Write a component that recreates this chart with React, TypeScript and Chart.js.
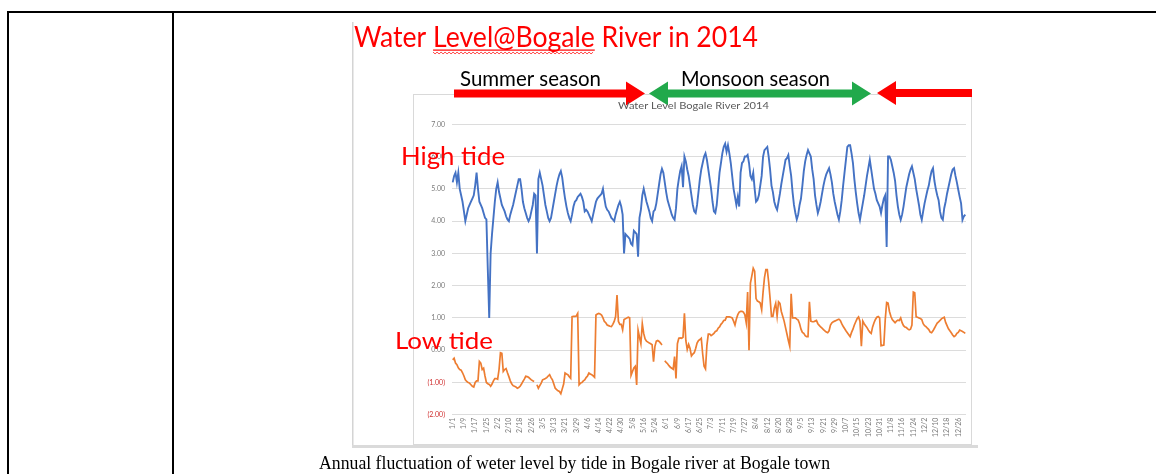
import React, { useEffect, useRef } from 'react';
import { Chart, registerables } from 'chart.js';

Chart.register(...registerables);

// ---------- data ----------
const MONTH_LENGTHS = [31, 29, 31, 30, 31, 30, 31, 31, 30, 31, 30, 31];
const DATES: string[] = [];
MONTH_LENGTHS.forEach((n, m) => {
  for (let d = 1; d <= n; d++) DATES.push(`${m + 1}/${d}`);
});
const LABEL_EVERY = 8;

const Y_MIN = -2;
const Y_MAX = 7;

const HIGH_TIDE: number[] = [
  5.2, 5.4, 5.5, 5.2, 5.5, 5.0, 4.8, 4.6, 4.3, 4.0,
  4.2, 4.4, 4.5, 4.6, 4.7, 4.8, 5.1, 5.5, 5.0, 4.6,
  4.5, 4.4, 4.25, 4.1, 4.05, 2.5, 1.0, 3.0, 3.6, 4.1,
  4.6, 5.0, 5.2, 4.9, 4.7, 4.5, 4.4, 4.3, 4.15, 4.05,
  4.0, 4.2, 4.35, 4.5, 4.7, 4.9, 5.1, 5.3, 5.3, 5.0,
  4.6, 4.4, 4.25, 4.1, 4.0, 4.1, 4.3, 4.5, 4.85, 4.8,
  3.0, 5.3, 5.5, 5.3, 5.1, 4.8, 4.5, 4.3, 4.1, 4.0,
  4.1, 4.35, 4.6, 4.85, 5.1, 5.3, 5.45, 5.55, 5.35, 5.0,
  4.7, 4.45, 4.25, 4.1, 4.0, 4.2, 4.45, 4.6, 4.65, 4.75,
  4.8, 4.85, 4.75, 4.6, 4.3, 4.35, 4.3, 4.2, 4.1, 4.0,
  4.2, 4.4, 4.6, 4.7, 4.75, 4.8, 4.85, 5.0, 4.7, 4.45,
  4.35, 4.3, 4.2, 4.1, 4.05, 4.0, 4.2, 4.35, 4.5, 4.6,
  4.45, 4.2, 3.0, 3.6, 3.55, 3.5, 3.45, 3.3, 3.25, 3.7,
  3.65, 3.6, 2.9, 4.1, 4.35, 4.8, 5.0, 4.8, 4.6, 4.45,
  4.3, 4.1, 4.0, 4.3, 4.35, 4.55, 4.85, 5.15, 5.45, 5.62,
  5.5, 5.2, 4.9, 4.65, 4.5, 4.35, 4.2, 4.1, 4.04, 4.4,
  5.0, 5.3, 5.55, 5.7, 5.05, 6.0, 5.85, 5.6, 5.4, 5.1,
  4.8, 4.5, 4.3, 4.25, 4.5, 4.9, 5.3, 5.6, 5.8, 6.0,
  6.1, 5.9, 5.6, 5.3, 5.0, 4.6, 4.3, 4.25, 4.5, 5.0,
  5.5, 5.8, 6.1, 6.3, 6.4, 6.15, 6.35, 6.1, 5.8, 5.4,
  5.0, 4.75, 4.5, 4.75, 4.45, 5.5, 5.8, 5.85, 6.0, 6.0,
  6.05, 5.8, 5.4, 5.3, 5.5, 5.0, 4.6, 4.65, 4.8, 5.1,
  5.4, 6.0, 6.2, 6.25, 6.3, 6.0, 5.6, 5.1, 4.9, 4.6,
  4.45, 4.35, 4.6, 4.85, 5.15, 5.4, 5.65, 5.9, 5.95, 6.05,
  5.7, 5.4, 4.9, 4.5, 4.25, 4.05, 4.2, 4.5, 4.7, 5.1,
  5.55, 5.85, 6.05, 6.2, 6.1, 6.0, 5.6, 5.3, 4.8, 4.5,
  4.25, 4.4, 4.6, 4.85, 5.1, 5.3, 5.45, 5.55, 5.64, 5.45,
  5.2, 4.85, 4.6, 4.4, 4.2, 4.05, 4.3, 4.65, 5.1, 5.5,
  5.9, 6.3, 6.35, 6.35, 6.1, 5.8, 5.3, 4.9, 4.55, 4.25,
  4.04, 4.3, 4.55, 4.8, 5.1, 5.4, 5.65, 5.9, 5.6, 5.3,
  5.0, 4.85, 4.65, 4.55, 4.45, 4.25, 4.5, 4.7, 4.8, 3.2,
  6.0, 6.0, 5.9, 5.7, 5.5, 5.25, 4.8, 4.45, 4.2, 4.04,
  4.2, 4.45, 4.75, 5.05, 5.25, 5.45, 5.6, 5.7, 5.5, 5.3,
  5.0, 4.75, 4.5, 4.2, 4.04, 4.3, 4.55, 4.75, 4.95, 5.1,
  5.35, 5.55, 5.64, 5.25, 5.0, 4.8, 4.65, 4.3, 4.1, 4.04,
  4.4, 4.6, 4.85, 5.05, 5.25, 5.45, 5.6, 5.64, 5.4, 5.2,
  4.97, 4.75, 4.55, 4.04, 4.15, 4.2,
];

const LOW_TIDE: (number | null)[] = [
  -0.30, -0.25, -0.40, -0.45, -0.55, -0.60, -0.62, -0.70, -0.80, -0.92,
  -0.97, -1.00, -1.02, -1.07, -1.12, -1.14, -1.00, -0.95, -0.95, -0.35,
  -0.40, -0.60, -0.56, -0.80, -1.00, -1.04, -1.06, -1.12, -1.05, -0.95,
  -0.88, -0.88, -0.90, -0.60, -0.08, -0.10, -0.66, -0.60, -0.57, -0.70,
  -0.82, -0.95, -1.04, -1.10, -1.12, -1.14, -1.18, -1.16, -1.12, -1.05,
  -0.97, -0.90, -0.81, -0.82, -0.84, -0.88, -0.92, -0.95, -0.97, null,
  -1.07, -1.18, -1.10, -1.02, -0.92, -0.90, -0.88, -0.85, -0.80, -0.76,
  -0.85, -0.92, -1.05, -1.18, -1.22, -1.26, -1.28, -1.35, -1.20, -1.05,
  -0.71, -0.74, -0.76, -0.82, -0.87, 1.04, 1.05, 1.05, 1.06, 1.14,
  -1.07, -1.02, -1.00, -0.95, -0.92, -0.85, -0.80, -0.71, -0.74, -0.76,
  -0.80, -0.84, 1.09, 1.12, 1.14, 1.12, 1.09, 1.00, 0.89, 0.85,
  0.78, 0.76, 0.74, 0.73, 0.80, 0.89, 1.04, 1.71, 0.89, 0.80,
  0.80, 0.63, 0.95, 0.97, 1.00, 1.02, 1.00, -0.78, -0.66, -0.55,
  -0.50, -1.08, 0.62, 0.40, 0.20, 0.82, 0.52, 0.35, 0.28, 0.25,
  0.22, 0.20, 0.17, -0.36, 0.12, 0.28, 0.30, 0.27, 0.22, 0.16,
  null, -0.33, -0.38, -0.42, -0.48, -0.53, -0.56, -0.59, -0.20, -0.88,
  0.20, 0.37, 0.38, 0.37, 0.40, 1.14, 0.30, 0.02, 0.18, 0.05,
  -0.18, -0.12, -0.08, 0.05, 0.22, 0.30, 0.33, 0.37, -0.12, -0.50,
  -0.58, 0.15, 0.50, 0.50, 0.45, 0.48, 0.52, 0.58, 0.60, 0.68,
  0.72, 0.80, 0.85, 0.92, 0.93, 1.03, 1.03, 1.03, 1.02, 1.00,
  0.90, 0.78, 0.97, 1.10, 1.18, 1.20, 1.20, 1.18, 1.10, 0.85,
  1.80, 0.00, 2.08, 2.30, 2.54, 2.45, 1.60, 1.52, 1.50, 1.46,
  1.25, 1.80, 2.25, 2.50, 2.50, 2.10, 1.60, 1.05, 1.05, 1.30,
  1.45, 1.05, 1.50, 1.45, 1.20, 1.05, 0.90, 0.70, 0.50, 0.30,
  0.12, 1.75, 1.00, 1.00, 1.00, 0.96, 0.93, 0.82, 0.65, 0.55,
  0.52, 0.45, 0.42, 0.42, 1.50, 0.90, 0.88, 0.88, 0.90, 0.92,
  0.82, 0.77, 0.72, 0.68, 0.64, 0.60, 0.56, 0.54, 0.60, 0.78,
  0.85, 0.88, 0.90, 0.92, 0.94, 0.96, 0.92, 0.82, 0.74, 0.67,
  0.60, 0.54, 0.48, 0.42, 0.55, 0.65, 0.78, 0.88, 0.98, 1.03,
  0.90, 0.12, 0.90, 0.82, 0.76, 0.70, 0.62, 0.56, 0.52, 0.72,
  0.85, 0.95, 1.02, 1.04, 1.00, 0.14, 0.15, 0.16, 0.95, 1.48,
  1.46, 1.20, 1.05, 0.95, 0.90, 0.85, 0.90, 0.93, 0.92, 1.00,
  0.85, 0.76, 0.72, 0.70, 0.66, 0.63, 0.65, 0.78, 1.80, 1.78,
  1.03, 1.02, 1.00, 0.98, 0.95, 0.82, 0.76, 0.73, 0.68, 0.64,
  0.56, 0.54, 0.60, 0.68, 0.76, 0.84, 0.88, 0.92, 0.97, 1.00,
  1.02, 0.86, 0.76, 0.66, 0.60, 0.54, 0.47, 0.42, 0.45, 0.52,
  0.55, 0.62, 0.60, 0.58, 0.55, 0.52,
];

// ---------- texts ----------
const MAIN_TITLE = 'Water Level@Bogale River in 2014';
const UNDERLINED_PART = 'Level@Bogale';
const CHART_TITLE = 'Water Level Bogale River 2014';
const SUMMER = 'Summer season';
const MONSOON = 'Monsoon season';
const HIGH_LABEL = 'High tide';
const LOW_LABEL = 'Low tide';
const CAPTION = 'Annual fluctuation of weter level by tide in Bogale river at Bogale town';

const W = 1156;
const H = 474;

function fitText(
  ctx: CanvasRenderingContext2D,
  text: string,
  x: number,
  baseline: number,
  width: number,
  size: number,
  family: string,
  color: string
) {
  ctx.save();
  ctx.font = `${size}px ${family}`;
  const m = ctx.measureText(text).width;
  ctx.translate(x, baseline);
  ctx.scale(width / m, 1);
  ctx.fillStyle = color;
  ctx.textAlign = 'left';
  ctx.textBaseline = 'alphabetic';
  ctx.fillText(text, 0, 0);
  ctx.restore();
}

function blockArrow(
  ctx: CanvasRenderingContext2D,
  x1: number,
  x2: number,
  cy: number,
  shaft: number,
  head: number,
  headL: number,
  leftHead: boolean,
  rightHead: boolean,
  color: string
) {
  const s = shaft / 2;
  const h = head / 2;
  ctx.beginPath();
  if (leftHead) {
    ctx.moveTo(x1, cy);
    ctx.lineTo(x1 + headL, cy - h);
    ctx.lineTo(x1 + headL, cy - s);
  } else {
    ctx.moveTo(x1, cy - s);
  }
  if (rightHead) {
    ctx.lineTo(x2 - headL, cy - s);
    ctx.lineTo(x2 - headL, cy - h);
    ctx.lineTo(x2, cy);
    ctx.lineTo(x2 - headL, cy + h);
    ctx.lineTo(x2 - headL, cy + s);
  } else {
    ctx.lineTo(x2, cy - s);
    ctx.lineTo(x2, cy + s);
  }
  if (leftHead) {
    ctx.lineTo(x1 + headL, cy + s);
    ctx.lineTo(x1 + headL, cy + h);
  } else {
    ctx.lineTo(x1, cy + s);
  }
  ctx.closePath();
  ctx.fillStyle = color;
  ctx.fill();
}

const decorPlugin = {
  id: 'decor',
  beforeDraw(chart: any) {
    const ctx: CanvasRenderingContext2D = chart.ctx;
    ctx.save();
    ctx.fillStyle = '#ffffff';
    ctx.fillRect(0, 0, W, H);
    // table borders
    ctx.fillStyle = '#000000';
    ctx.fillRect(7, 11, W - 7, 2);
    ctx.fillRect(7, 11, 2, H - 11);
    ctx.fillRect(172, 11, 2, H - 11);
    // embedded picture frame
    ctx.fillStyle = '#d4d4d4';
    ctx.fillRect(352, 22, 1.5, 424);
    ctx.fillStyle = '#dadada';
    ctx.fillRect(352, 445, 626, 3);
    // excel chart area border
    ctx.strokeStyle = '#d9d9d9';
    ctx.lineWidth = 1;
    ctx.strokeRect(413.5, 94.5, 558, 350);
    ctx.restore();
  },
  afterDraw(chart: any) {
    const ctx: CanvasRenderingContext2D = chart.ctx;
    ctx.save();
    // main title
    const titleSize = 28;
    fitText(ctx, MAIN_TITLE, 354, 47, 404, titleSize, 'Lato', '#ff0000');
    // underline + spell-check squiggle under "Level@Bogale"
    ctx.font = `${titleSize}px Lato`;
    const full = ctx.measureText(MAIN_TITLE).width;
    const sx = 404 / full;
    const pre = ctx.measureText('Water ').width * sx;
    const part = ctx.measureText(UNDERLINED_PART).width * sx;
    ctx.fillStyle = '#ff0000';
    ctx.fillRect(354 + pre, 49.5, part, 1.2);
    ctx.strokeStyle = '#ff3030';
    ctx.lineWidth = 0.9;
    ctx.beginPath();
    for (let x = 0; x <= part; x += 2) {
      const y = 53 + ((x / 2) % 2 === 0 ? -0.9 : 0.9);
      if (x === 0) ctx.moveTo(354 + pre + x, y);
      else ctx.lineTo(354 + pre + x, y);
    }
    ctx.stroke();

    // season labels
    fitText(ctx, SUMMER, 460, 86, 141, 20.5, 'Lato', '#000000');
    fitText(ctx, MONSOON, 681, 86, 149, 20.5, 'Lato', '#000000');

    // arrows
    blockArrow(ctx, 454, 645, 93.5, 8, 24, 19, false, true, '#fe0000');
    blockArrow(ctx, 649, 871, 93.5, 8, 24, 19, true, true, '#21a94b');
    blockArrow(ctx, 877, 972, 93, 8, 24, 19, true, false, '#fe0000');

    // inner chart title
    fitText(ctx, CHART_TITLE, 618, 108.5, 151, 10, 'Lato', '#595959');

    // tide labels
    fitText(ctx, HIGH_LABEL, 401, 165, 104, 25, 'Lato', '#ff0000');
    fitText(ctx, LOW_LABEL, 395, 349, 98, 23, 'Lato', '#ff0000');

    // caption
    fitText(ctx, CAPTION, 319, 469, 511, 18.5, '"Liberation Serif"', '#000000');
    ctx.restore();
  },
};

export default function App() {
  const ref = useRef<HTMLCanvasElement | null>(null);

  useEffect(() => {
    if (!ref.current) return;
    const chart = new Chart(ref.current, {
      type: 'line',
      data: {
        labels: DATES,
        datasets: [
          {
            label: 'High tide',
            data: HIGH_TIDE,
            borderColor: '#4472c4',
            borderWidth: 1.9,
            pointRadius: 0,
            tension: 0,
            spanGaps: false,
          },
          {
            label: 'Low tide',
            data: LOW_TIDE,
            borderColor: '#ed7d31',
            borderWidth: 1.7,
            pointRadius: 0,
            tension: 0,
            spanGaps: false,
          },
        ],
      },
      options: {
        responsive: false,
        animation: false,
        events: [],
        layout: { padding: { left: 412, right: 190, top: 124.3, bottom: 19.3 } },
        plugins: {
          legend: { display: false },
          title: { display: false },
          tooltip: { enabled: false },
        },
        scales: {
          x: {
            type: 'category',
            offset: true,
            afterFit: (s: any) => {
              s.height = 40;
            },
            grid: { display: false, drawTicks: false },
            border: { display: false },
            ticks: {
              autoSkip: false,
              minRotation: 90,
              maxRotation: 90,
              padding: 3,
              color: '#7a7a7a',
              font: { size: 7, family: 'Lato' },
              callback: (_v: any, i: number) => (i % LABEL_EVERY === 0 ? DATES[i] : null),
            },
          },
          y: {
            min: Y_MIN,
            max: Y_MAX,
            afterFit: (s: any) => {
              s.width = 40;
            },
            grid: { color: '#dcdcdc', lineWidth: 1, drawTicks: false },
            border: { display: false },
            ticks: {
              stepSize: 1,
              padding: 7,
              font: { size: 7, family: 'Lato' },
              color: (c: any) => (c.tick && c.tick.value < 0 ? '#d03030' : '#7a7a7a'),
              callback: (v: any) => {
                const n = Number(v);
                return n < 0 ? `(${Math.abs(n).toFixed(2)})` : n.toFixed(2);
              },
            },
          },
        },
      },
      plugins: [decorPlugin],
    });
    return () => chart.destroy();
  }, []);

  return (
    <div style={{ position: 'absolute', left: 0, top: 0, width: W, height: H }}>
      <canvas ref={ref} width={W} height={H} style={{ display: 'block', width: W, height: H }} />
    </div>
  );
}
